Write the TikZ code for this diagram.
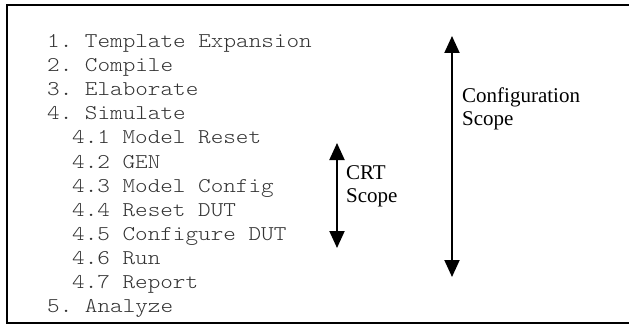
\documentclass[tikz,border=0pt]{standalone}
\usepackage{fontspec}
\setmainfont{Liberation Serif}
\setmonofont[FakeStretch=1.143]{Latin Modern Mono Light}
\usetikzlibrary{arrows.meta}
\tikzset{
  step item/.style={anchor=base west, inner sep=0pt, font=\ttfamily\fontsize{21}{21}\selectfont, text=black!80},
  scope label/.style={anchor=west, inner sep=0pt, align=left, font=\fontsize{21}{23}\selectfont},
  scope arrow/.style={line width=2pt, {Triangle[width=15pt,length=17pt]}-{Triangle[width=15pt,length=17pt]}},
  frame/.style={line width=2pt}
}
\begin{document}
\begin{tikzpicture}[x=1pt, y=-1pt]
  \useasboundingbox (0,0) rectangle (629,326);
  % open frame: top, left and bottom edges
  \coordinate (tr) at (630,5);
  \coordinate (tl) at (7,5);
  \coordinate (bl) at (7,323);
  \coordinate (br) at (630,323);
  \draw[frame] (tr) -- (tl) -- (bl) -- (br);

  % the flow steps
  \def\lh{24.1}
  \node[step item] (s1)  at (47, 47.5+0*\lh) {1. Template Expansion};
  \node[step item] (s2)  at (47, 47.5+1*\lh) {2. Compile};
  \node[step item] (s3)  at (47, 47.5+2*\lh) {3. Elaborate};
  \node[step item] (s4)  at (47, 47.5+3*\lh) {4. Simulate};
  \node[step item] (s41) at (72, 47.5+4*\lh) {4.1 Model Reset};
  \node[step item] (s42) at (72, 47.5+5*\lh) {4.2 GEN};
  \node[step item] (s43) at (72, 47.5+6*\lh) {4.3 Model Config};
  \node[step item] (s44) at (72, 47.5+7*\lh) {4.4 Reset DUT};
  \node[step item] (s45) at (72, 47.5+8*\lh) {4.5 Configure DUT};
  \node[step item] (s46) at (72, 47.5+9*\lh) {4.6 Run};
  \node[step item] (s47) at (72, 47.5+10*\lh) {4.7 Report};
  \node[step item] (s5)  at (47, 47.5+11*\lh) {5. Analyze};

  % configuration scope
  \coordinate (cfgtop) at (452,36);
  \coordinate (cfgbot) at (452,277);
  \draw[scope arrow] (cfgtop) -- (cfgbot);
  \node[scope label] (cfglabel) at (462,109) {Configuration\\Scope};

  % CRT scope
  \coordinate (crttop) at (337,143);
  \coordinate (crtbot) at (337,248);
  \draw[scope arrow] (crttop) -- (crtbot);
  \node[scope label] (crtlabel) at (346,186) {CRT\\Scope};
\end{tikzpicture}
\end{document}
